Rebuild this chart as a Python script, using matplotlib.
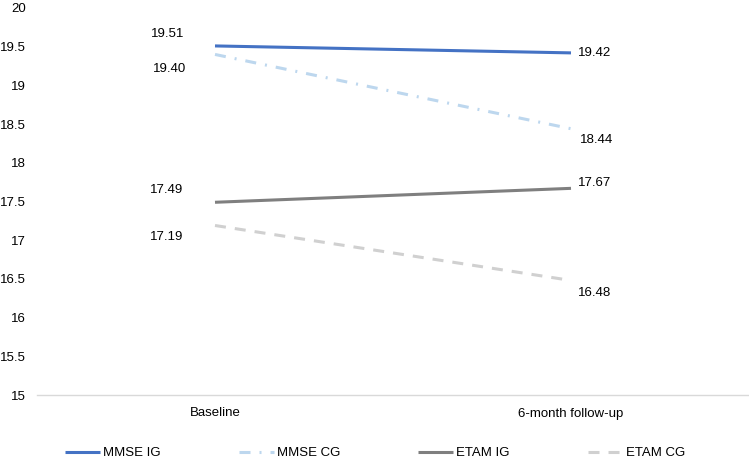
import matplotlib
matplotlib.use("Agg")
import matplotlib.pyplot as plt

plt.rcParams['font.family'] = ['Liberation Sans', 'DejaVu Sans']

categories = ["Baseline", "6-month follow-up"]
series_names = ["MMSE IG", "MMSE CG", "ETAM IG", "ETAM CG"]
mmse_ig = [19.51, 19.42]
mmse_cg = [19.40, 18.44]
etam_ig = [17.49, 17.67]
etam_cg = [17.19, 16.48]
y_ticks = [15, 15.5, 16, 16.5, 17, 17.5, 18, 18.5, 19, 19.5, 20]

colors = ["#4472C4", "#BDD7EE", "#7F7F7F", "#D0D0D0"]
dashes = [None, (3.6, 2.95, 0.65, 2.95), None, (3.6, 2.95)]
# label offsets (pixels) for baseline and follow-up labels
offsets = [[(-47, 12), (24, 0)],
           [(-45, -15), (26, -11)],
           [(-48, 12), (24, 5)],
           [(-48, -12), (24, -13)]]

fig = plt.figure(figsize=(7.49, 4.62), dpi=100)
ax = fig.add_axes([37/749, 67/462, 712/749, 387/462])

data = [mmse_ig, mmse_cg, etam_ig, etam_cg]
x = list(range(len(categories)))
handles = []
for vals, name, c, d, offs in zip(data, series_names, colors, dashes, offsets):
    ln, = ax.plot(x, vals, color=c, lw=2.2, label=name, solid_capstyle='butt')
    if d is not None:
        ln.set_dashes(d)
        ln.set_dash_capstyle('butt')
    handles.append(ln)
    for xi, v, o in zip(x, vals, offs):
        ax.annotate(f"{v:.2f}", (xi, v), xytext=o, textcoords="offset pixels",
                    ha='center', va='center', fontsize=9.5, color='#000000')

ax.set_xlim(-0.5, 1.5)
ax.set_ylim(15, 20)
ax.set_yticks(y_ticks)
ax.set_yticklabels([f"{t:g}" for t in y_ticks])
ax.set_xticks(x)
ax.set_xticklabels(categories)
ax.tick_params(axis='both', length=0, labelsize=9.5, colors='#000000')
ax.tick_params(axis='y', pad=8)
ax.tick_params(axis='x', pad=9)
for s in ['top', 'right', 'left']:
    ax.spines[s].set_visible(False)
ax.spines['bottom'].set_color('#D9D9D9')
ax.spines['bottom'].set_linewidth(1)

fig.legend(handles=handles, labels=series_names, loc='center',
           bbox_to_anchor=(375/749, 9/462), ncol=4, frameon=False,
           fontsize=9.5, handlelength=2.65, handletextpad=0.25,
           columnspacing=5.9)

fig.savefig("out.png", dpi=100)
